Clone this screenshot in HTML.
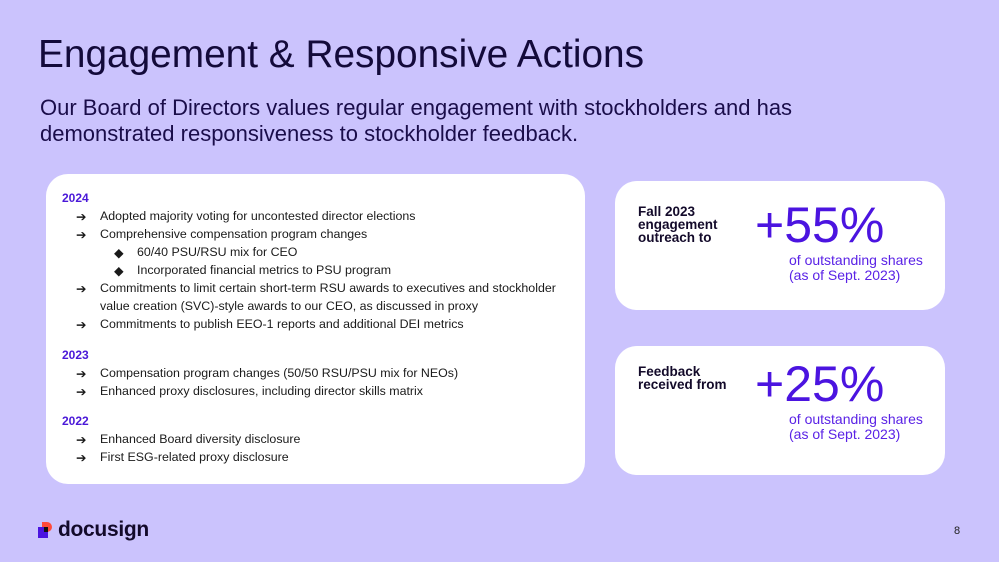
<!DOCTYPE html>
<html><head><style>
body{margin:0;width:999px;height:562px;background:#cbc3fd;font-family:"Liberation Sans",sans-serif;position:relative;overflow:hidden;color:#130a3a}
.abs{position:absolute}
h1{position:absolute;left:38px;top:33px;margin:0;font-weight:normal;font-size:38.8px;color:#130a3a}
.sub{left:40px;top:95px;font-size:22px;line-height:26px;color:#1a0d4a}
.box{background:#fff;border-radius:22px}
.t{font-size:12.4px;position:absolute;white-space:nowrap;color:#1a1a1a}
.y{font-weight:bold;color:#4a18d8;font-size:12px}
.lab{font-weight:bold;font-size:13.5px;line-height:13px;color:#130a2a}
.big{font-size:50px;color:#4b14e0}
.pct{font-size:14px;line-height:15px;color:#5a22e6}
</style></head><body>
<h1>Engagement &amp; Responsive Actions</h1>
<div class="abs sub">Our Board of Directors values regular engagement with stockholders and has<br>demonstrated responsiveness to stockholder feedback.</div>
<div class="abs box" style="left:46px;top:174px;width:539px;height:310px"></div>
<div class="t y" style="left:62px;top:191px">2024</div>
<div class="t" style="left:76px;top:209px">➔</div><div class="t" style="left:100px;top:209px">Adopted majority voting for uncontested director elections</div>
<div class="t" style="left:76px;top:227px">➔</div><div class="t" style="left:100px;top:227px">Comprehensive compensation program changes</div>
<div class="t" style="left:114px;top:245px">◆</div><div class="t" style="left:137px;top:245px">60/40 PSU/RSU mix for CEO</div>
<div class="t" style="left:114px;top:263px">◆</div><div class="t" style="left:137px;top:263px">Incorporated financial metrics to PSU program</div>
<div class="t" style="left:76px;top:281px">➔</div><div class="t" style="left:100px;top:281px">Commitments to limit certain short-term RSU awards to executives and stockholder</div>
<div class="t" style="left:100px;top:299px">value creation (SVC)-style awards to our CEO, as discussed in proxy</div>
<div class="t" style="left:76px;top:317px">➔</div><div class="t" style="left:100px;top:317px">Commitments to publish EEO-1 reports and additional DEI metrics</div>
<div class="t y" style="left:62px;top:348px">2023</div>
<div class="t" style="left:76px;top:366px">➔</div><div class="t" style="left:100px;top:366px">Compensation program changes (50/50 RSU/PSU mix for NEOs)</div>
<div class="t" style="left:76px;top:384px">➔</div><div class="t" style="left:100px;top:384px">Enhanced proxy disclosures, including director skills matrix</div>
<div class="t y" style="left:62px;top:414px">2022</div>
<div class="t" style="left:76px;top:432px">➔</div><div class="t" style="left:100px;top:432px">Enhanced Board diversity disclosure</div>
<div class="t" style="left:76px;top:450px">➔</div><div class="t" style="left:100px;top:450px">First ESG-related proxy disclosure</div>

<div class="abs box" style="left:615px;top:181px;width:330px;height:129px"></div>
<div class="abs lab" style="left:638px;top:205px">Fall 2023<br>engagement<br>outreach to</div>
<div class="abs big" style="left:755px;top:196px">+55%</div>
<div class="abs pct" style="left:789px;top:253px">of outstanding shares<br>(as of Sept. 2023)</div>

<div class="abs box" style="left:615px;top:346px;width:330px;height:129px"></div>
<div class="abs lab" style="left:638px;top:365px">Feedback<br>received from</div>
<div class="abs big" style="left:755px;top:355px">+25%</div>
<div class="abs pct" style="left:789px;top:412px">of outstanding shares<br>(as of Sept. 2023)</div>

<div class="abs" style="left:42px;top:522px;width:10px;height:10px;background:#ff4a3a;border-radius:0 6px 6px 0"></div>
<div class="abs" style="left:38px;top:527px;width:10px;height:11px;background:#4b14e0"></div>
<div class="abs" style="left:44px;top:527px;width:4px;height:5px;background:#111"></div>
<div class="abs" style="left:58px;top:518px;font-size:21px;font-weight:bold;color:#130a2a;letter-spacing:-0.3px">docusign</div>
<div class="abs" style="left:954px;top:525px;font-size:11px;color:#222">8</div>
</body></html>
